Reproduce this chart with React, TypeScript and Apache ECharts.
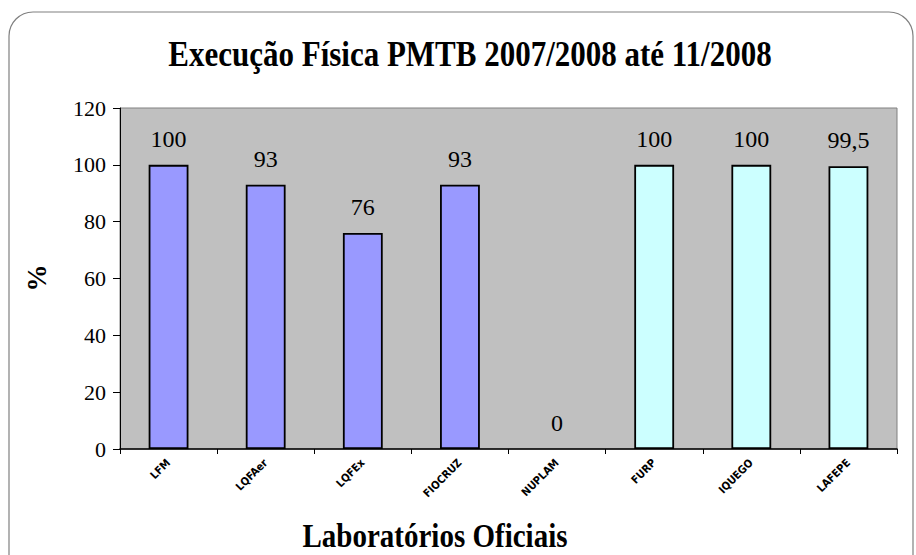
import React, { useEffect, useRef } from "react";
import * as echarts from "echarts";

const categories = ["LFM", "LQFAer", "LQFEx", "FIOCRUZ", "NUPLAM", "FURP", "IQUEGO", "LAFEPE"];
const values = [100, 93, 76, 93, 0, 100, 100, 99.5];
const groups = ["a", "a", "a", "a", "a", "b", "b", "b"];
const groupColors: Record<string, string> = { a: "#9999FF", b: "#CCFFFF" };
const yTicks = [0, 20, 40, 60, 80, 100, 120];

const serif = "Liberation Serif";

export default function App() {
  const ref = useRef<HTMLDivElement>(null);
  useEffect(() => {
    if (!ref.current) return;
    const chart = echarts.init(ref.current, null, { renderer: "svg" });
    chart.setOption({
      animation: false,
      backgroundColor: "#FFFFFF",
      graphic: [
        {
          type: "rect",
          shape: { x: 9, y: 12, width: 904, height: 570, r: 24 },
          style: { fill: "none", stroke: "#808080", lineWidth: 1.2 },
          z: -10,
        },
        {
          type: "text",
          x: 470,
          y: 54,
          scaleY: 1.15,
          style: {
            text: "Execução Física PMTB 2007/2008 até 11/2008",
            fontFamily: serif,
            fontWeight: "bold",
            fontSize: 31,
            fill: "#000",
            align: "center",
            verticalAlign: "middle",
          },
        },
        {
          type: "text",
          x: 435,
          y: 536,
          scaleY: 1.15,
          style: {
            text: "Laboratórios Oficiais",
            fontFamily: serif,
            fontWeight: "bold",
            fontSize: 29,
            fill: "#000",
            align: "center",
            verticalAlign: "middle",
          },
        },
        {
          type: "text",
          x: 37,
          y: 278,
          rotation: Math.PI / 2,
          style: {
            text: "%",
            fontFamily: serif,
            fontWeight: "bold",
            fontSize: 27,
            fill: "#000",
            align: "center",
            verticalAlign: "middle",
          },
        },
      ],
      grid: {
        left: 120,
        top: 108,
        right: 19,
        bottom: 106,
        show: true,
        backgroundColor: "#C0C0C0",
        borderColor: "#808080",
        borderWidth: 1,
      },
      xAxis: {
        type: "category",
        data: categories,
        axisLine: { show: true, lineStyle: { color: "#000", width: 1.5 } },
        axisTick: { show: true, alignWithLabel: false, length: 5, lineStyle: { color: "#000" } },
        axisLabel: {
          rotate: 45,
          fontFamily: "DejaVu Sans Condensed",
          fontWeight: "bold",
          fontSize: 11,
          color: "#000",
          margin: 12,
          interval: 0,
        },
        splitLine: { show: false },
      },
      yAxis: {
        type: "value",
        min: 0,
        max: 120,
        interval: 20,
        axisLine: { show: true, lineStyle: { color: "#000", width: 1 } },
        axisTick: { show: true, length: 7, lineStyle: { color: "#000" } },
        axisLabel: {
          fontFamily: serif,
          fontSize: 22,
          color: "#000",
          margin: 14,
          formatter: (v: number) => (yTicks.includes(v) ? String(v) : ""),
        },
        splitLine: { show: false },
      },
      series: [
        {
          type: "bar",
          barWidth: "41%",
          data: values.map((v, i) => ({
            value: v,
            itemStyle: {
              color: groupColors[groups[i]],
              borderColor: "#000",
              borderWidth: v === 0 ? 0 : 1.8,
            },
          })),
          label: {
            show: true,
            position: "top",
            distance: 14,
            fontFamily: serif,
            fontSize: 24,
            color: "#000",
            formatter: (p: any) => String(p.value).replace(".", ","),
          },
        },
      ],
    });
    return () => chart.dispose();
  }, []);
  return <div ref={ref} style={{ width: 916, height: 555, position: "absolute", left: 0, top: 0 }} />;
}
